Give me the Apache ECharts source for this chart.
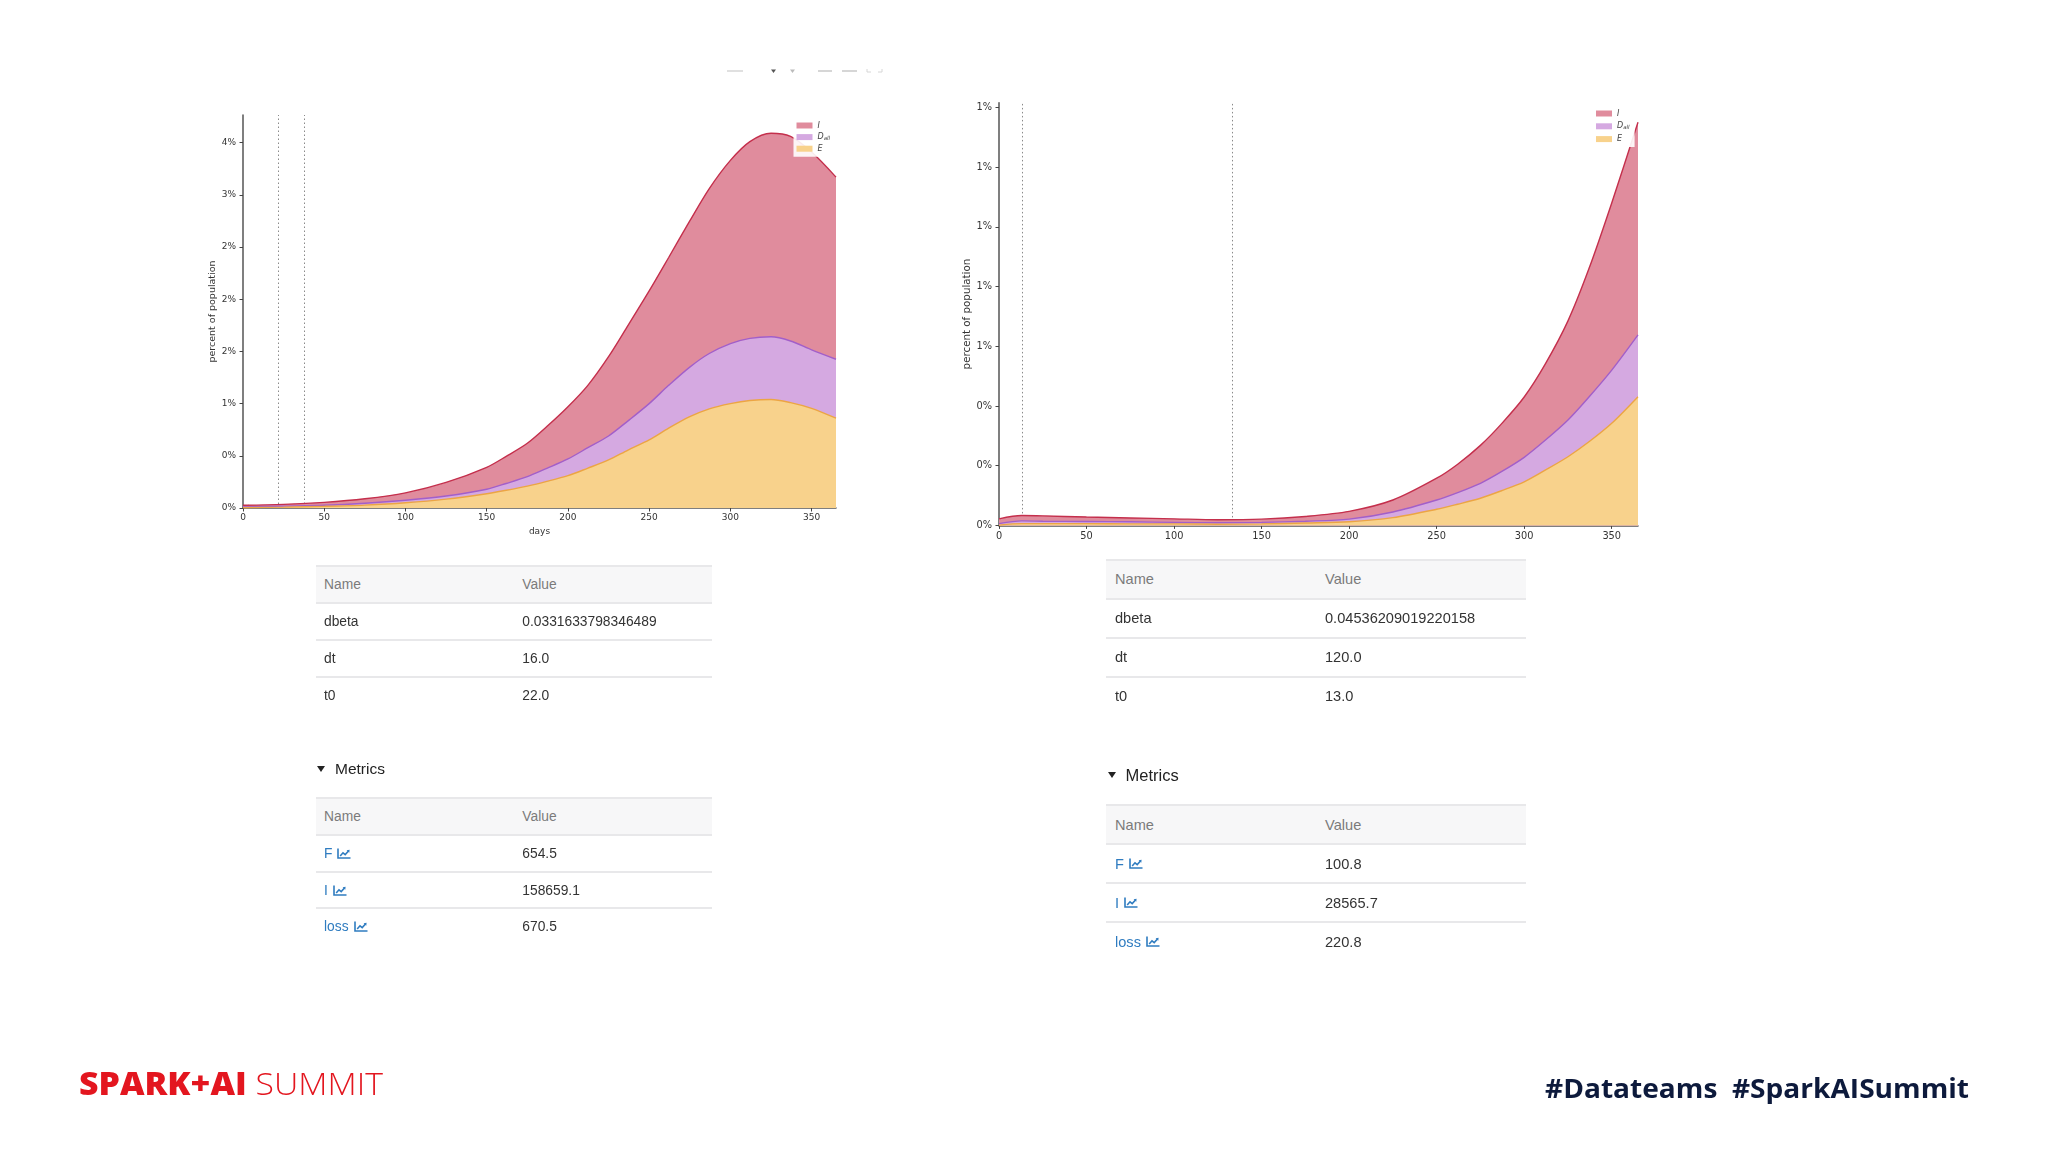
<!DOCTYPE html>
<html><head><meta charset="utf-8">
<script src="https://cdn.jsdelivr.net/npm/echarts@6/dist/echarts.min.js"></script>
<style>
html,body{margin:0;padding:0;width:2048px;height:1152px;background:#fff;overflow:hidden;font-family:"Liberation Sans",Arial,sans-serif;}
#chart{position:absolute;left:0;top:0;width:2048px;height:1152px;}
.row{position:absolute;box-sizing:border-box;border-top:2px solid #e8e8ea;}
.hdr{background:#f7f7f8;}
.cell{position:absolute;top:0;height:100%;display:flex;align-items:center;white-space:nowrap;color:#333;}
.hdr .cell{color:#7b7b7b;}
.link{color:#2f7cc0 !important;}
.link svg{margin-left:5px;}
.mhead{position:absolute;display:flex;align-items:center;color:#222;}
.tri{width:0;height:0;border-left:4.5px solid transparent;border-right:4.5px solid transparent;border-top:6px solid #222;margin-right:10px;}
.fit{position:absolute;white-space:nowrap;transform-origin:0 50%;line-height:1;}
</style></head>
<body>
<div id="chart"></div>
<div id="html"></div>
<script>
// ---------------- data ----------------
const xTicks = [0, 50, 100, 150, 200, 250, 300, 350];

const leftDays = [0,25,50,75,100,125,150,162,175,187,200,212,225,237,250,262,275,287,300,312,325,337,350,365];
const leftE    = [0.003,0.008,0.016,0.028,0.05,0.085,0.137,0.17,0.21,0.255,0.31,0.38,0.46,0.555,0.652,0.765,0.875,0.95,1.0,1.03,1.04,1.01,0.955,0.86];
const leftDall = [0.007,0.010,0.010,0.017,0.024,0.030,0.043,0.065,0.09,0.125,0.16,0.195,0.23,0.28,0.348,0.41,0.475,0.53,0.575,0.595,0.60,0.59,0.56,0.565];
const leftI    = [0.016,0.017,0.028,0.043,0.071,0.13,0.21,0.26,0.32,0.40,0.50,0.595,0.76,0.915,1.08,1.225,1.40,1.58,1.755,1.885,1.95,1.96,1.895,1.745];
const leftVLines = [22, 38];
const leftYTicks  = [0, 0.5, 1, 1.5, 2, 2.5, 3, 3.5];
const leftYLabels = ['0%','0%','1%','2%','2%','2%','3%','4%'];

const rightDays = [0,13,25,50,75,100,125,150,175,200,225,250,262,275,287,300,312,325,337,350,365];
const rightE    = [0.001,0.006,0.006,0.006,0.005,0.005,0.004,0.005,0.008,0.012,0.026,0.054,0.071,0.091,0.116,0.146,0.185,0.23,0.28,0.342,0.431];
const rightDall = [0.005,0.009,0.008,0.007,0.007,0.005,0.005,0.005,0.006,0.009,0.019,0.031,0.039,0.050,0.064,0.082,0.100,0.123,0.150,0.178,0.207];
const rightI    = [0.016,0.018,0.018,0.015,0.013,0.012,0.010,0.011,0.016,0.026,0.040,0.073,0.095,0.127,0.16,0.202,0.255,0.332,0.43,0.56,0.712];
const rightVLines = [13, 133];
const rightYTicks  = [0, 0.2, 0.4, 0.6, 0.8, 1.0, 1.2, 1.4];
const rightYLabels = ['0%','0%','0%','1%','1%','1%','1%','1%'];

const legendNames = ['I', 'Dall', 'E'];

const leftParams  = [['dbeta','0.0331633798346489'],['dt','16.0'],['t0','22.0']];
const leftMetrics = [['F','654.5'],['I','158659.1'],['loss','670.5']];
const rightParams  = [['dbeta','0.04536209019220158'],['dt','120.0'],['t0','13.0']];
const rightMetrics = [['F','100.8'],['I','28565.7'],['loss','220.8']];

// ---------------- styles ----------------
const FILL = {I:'#e08c9d', Dall:'#d5a9e1', E:'#f8d28c'};
const EDGE = {I:'#c42f4c', Dall:'#a25fc9', E:'#eca544'};
const AXC = '#555';
const FONT = 'DejaVu Sans';

function labelFor(ticks, labels){
  return v => { let k = 0, b = 1e9; ticks.forEach((t,i)=>{ const d=Math.abs(t-v); if(d<b){b=d;k=i;} }); return labels[k]; };
}

// stacked areas: cumulative sums drawn back-to-front, each filled down to 0
function makeSeries(idx, days, E, Dall, I, vlines){
  const layers = [['E',E],['Dall',Dall],['I',I]];
  const cum = days.map(()=>0);
  const built = layers.map(([n,arr])=>{
    const pts = days.map((d,i)=>{ cum[i] += arr[i]; return [d, cum[i]]; });
    return [n, pts];
  });
  const out = built.map(([n,pts],k)=>({
    name:n, type:'line', xAxisIndex:idx, yAxisIndex:idx,
    data:pts, smooth:0.3, smoothConstraint:false, symbol:'none', showSymbol:false,
    itemStyle:{color:FILL[n]},
    lineStyle:{color:EDGE[n], width:1.4},
    areaStyle:{color:FILL[n], opacity:1, origin:'start'},
    z: 10-k*2, silent:true, animation:false
  }));
  out.push({
    type:'line', xAxisIndex:idx, yAxisIndex:idx, data:[], silent:true, animation:false, z:1,
    markLine:{symbol:'none', silent:true, animation:false, label:{show:false},
      lineStyle:{type:[1.5,2.5], color:'#8a8a8a', width:1},
      data: vlines.map(v=>({xAxis:v}))}
  });
  return out;
}

function xAxisCfg(idx, fs, margin, name){
  return {
    type:'value', gridIndex:idx, min:0, max:365,
    axisLine:{show:true, onZero:false, lineStyle:{color:AXC, width:1.5}},
    axisTick:{show:true, customValues:xTicks, length:3.5, lineStyle:{color:'#444'}},
    axisLabel:{show:true, customValues:xTicks, margin:margin, fontFamily:FONT, fontSize:fs, color:'#333'},
    splitLine:{show:false},
    name:name, nameLocation:'middle', nameGap:19.5,
    nameTextStyle:{fontFamily:FONT, fontSize:fs, color:'#333'}
  };
}
function yAxisCfg(idx, max, ticks, labels, fs, gap){
  return {
    type:'value', gridIndex:idx, min:0, max:max,
    axisLine:{show:true, lineStyle:{color:AXC, width:1.5}},
    axisTick:{show:true, customValues:ticks, length:3.5, lineStyle:{color:'#444'}},
    axisLabel:{show:true, customValues:ticks, formatter:labelFor(ticks, labels), margin:7,
      fontFamily:FONT, fontSize:fs, color:'#333'},
    splitLine:{show:false},
    name:'percent of population', nameLocation:'middle', nameGap:gap, nameRotate:90,
    nameTextStyle:{fontFamily:FONT, fontSize:fs+0.5, color:'#333'}
  };
}
function legendCfg(left, top, gap){
  return {
    orient:'vertical', left:left, top:top, itemWidth:16, itemHeight:6, itemGap:gap,
    icon:'rect', padding:[3,5,3,3], backgroundColor:'rgba(255,255,255,0.9)',
    selectedMode:false, animation:false, z:20,
    data: legendNames.map(n=>({name:n, itemStyle:{color:FILL[n], borderWidth:0}})),
    formatter: n => n==='Dall' ? '{it|D}{sub|all}' : '{it|'+n+'}',
    textStyle:{fontFamily:FONT, fontSize:8, color:'#444', lineHeight:10,
      rich:{it:{fontStyle:'italic', fontSize:8, fontFamily:FONT, color:'#444'},
            sub:{fontStyle:'italic', fontSize:5.5, fontFamily:FONT, color:'#444', padding:[3,0,0,0]}}}
  };
}

const chart = echarts.init(document.getElementById('chart'), null, {renderer:'canvas'});
const faint = '#d6d6d6';
chart.setOption({
  animation:false,
  backgroundColor:'transparent',
  grid:[
    {left:243, top:115, width:593, height:393},
    {left:999, top:102.7, width:639, height:422.7}
  ],
  xAxis:[ xAxisCfg(0, 9, 5, 'days'), xAxisCfg(1, 9.8, 6, '') ],
  yAxis:[ yAxisCfg(0, 3.765, leftYTicks, leftYLabels, 9, 23),
          yAxisCfg(1, 1.4156, rightYTicks, rightYLabels, 9.8, 26.5) ],
  legend:[ legendCfg(793.5, 117.5, 1.6), legendCfg(1593, 105.5, 2.8) ],
  series:[].concat(
    makeSeries(0, leftDays, leftE, leftDall, leftI, leftVLines),
    makeSeries(1, rightDays, rightE, rightDall, rightI, rightVLines)
  ),
  graphic:[
    {type:'line', shape:{x1:727,y1:71,x2:743,y2:71}, style:{stroke:faint, lineWidth:1.5}},
    {type:'polygon', shape:{points:[[771,69.5],[776,69.5],[773.5,73]]}, style:{fill:'#555'}},
    {type:'polygon', shape:{points:[[790,69.5],[795,69.5],[792.5,73]]}, style:{fill:'#bbb'}},
    {type:'line', shape:{x1:818,y1:71,x2:832,y2:71}, style:{stroke:faint, lineWidth:2}},
    {type:'line', shape:{x1:842,y1:71,x2:857,y2:71}, style:{stroke:faint, lineWidth:2}},
    {type:'polyline', shape:{points:[[867,69],[867,72],[871,72]]}, style:{stroke:faint, lineWidth:1, fill:null}},
    {type:'polyline', shape:{points:[[878,72],[882,72],[882,69]]}, style:{stroke:faint, lineWidth:1, fill:null}}
  ]
});

// ---------------- HTML tables & footer ----------------
const root = document.getElementById('html');
const ICON = '<svg width="14" height="11" viewBox="0 0 14 11"><path d="M1 0.5 V10 H13.5" fill="none" stroke="#2f7cc0" stroke-width="1.6"/><path d="M3.2 8 L6 4.8 L8.2 6.6 L11.5 3" fill="none" stroke="#2f7cc0" stroke-width="1.6"/><path d="M9.6 2.2 L12.6 1.8 L12.3 4.8 Z" fill="#2f7cc0"/></svg>';

function addRow(left, width, top, height, hdr, nameHtml, valHtml, nameOff, valOff, fs, link){
  const r = document.createElement('div');
  r.className = 'row' + (hdr ? ' hdr' : '');
  r.style.cssText = `left:${left}px;top:${top}px;width:${width}px;height:${height}px;font-size:${fs}px;`;
  r.innerHTML = `<div class="cell${link?' link':''}" style="left:${nameOff}px">${nameHtml}</div>` +
                `<div class="cell" style="left:${valOff}px">${valHtml}</div>`;
  root.appendChild(r);
}
function addTable(cfg, rows, top, isMetric){
  addRow(cfg.left, cfg.width, top, cfg.hh, true, 'Name', 'Value', cfg.no, cfg.vo, cfg.fs, false);
  let y = top + cfg.hh;
  rows.forEach(([n,v])=>{
    addRow(cfg.left, cfg.width, y, cfg.rh, false, isMetric ? (n + ICON) : n, v, cfg.no, cfg.vo, cfg.fs, isMetric);
    y += cfg.rh;
  });
}
function addMetricsHead(x, cy, fs){
  const d = document.createElement('div');
  d.className = 'mhead';
  d.style.cssText = `left:${x}px;top:${cy-12}px;height:24px;font-size:${fs}px;`;
  d.innerHTML = '<div class="tri"></div><span>Metrics</span>';
  root.appendChild(d);
}

const L = {left:316, width:396, hh:37.3, rh:36.7, no:8, vo:206.3, fs:13.8};
const R = {left:1106, width:420, hh:38.7, rh:39, no:9, vo:219, fs:14.6};
addTable(L, leftParams, 565, false);
addMetricsHead(317, 769.3, 15.5);
addTable(L, leftMetrics, 796.7, true);
addTable(R, rightParams, 559, false);
addMetricsHead(1107.5, 775.3, 16.5);
addTable(R, rightMetrics, 804.3, true);

function fitText(html, x, cy, fs, w, style){
  const d = document.createElement('div');
  d.className = 'fit';
  d.style.cssText = `left:${x}px;top:${cy - fs/2}px;font-size:${fs}px;height:${fs}px;` + style;
  d.innerHTML = html;
  root.appendChild(d);
  const bw = d.getBoundingClientRect().width;
  if (bw > 0) d.style.transform = `scaleX(${w/bw})`;
}
fitText('<span style="font-weight:800">SPARK+AI</span><span style="font-weight:300"> SUMMIT</span>',
        79, 1083, 31, 304, 'font-family:"Open Sans",sans-serif;color:#e3161f;');
fitText('#Datateams&nbsp;&nbsp;#SparkAISummit', 1545, 1088, 26, 424,
        'font-family:"Open Sans",sans-serif;font-weight:700;color:#0d1a3c;');
</script>
</body></html>
